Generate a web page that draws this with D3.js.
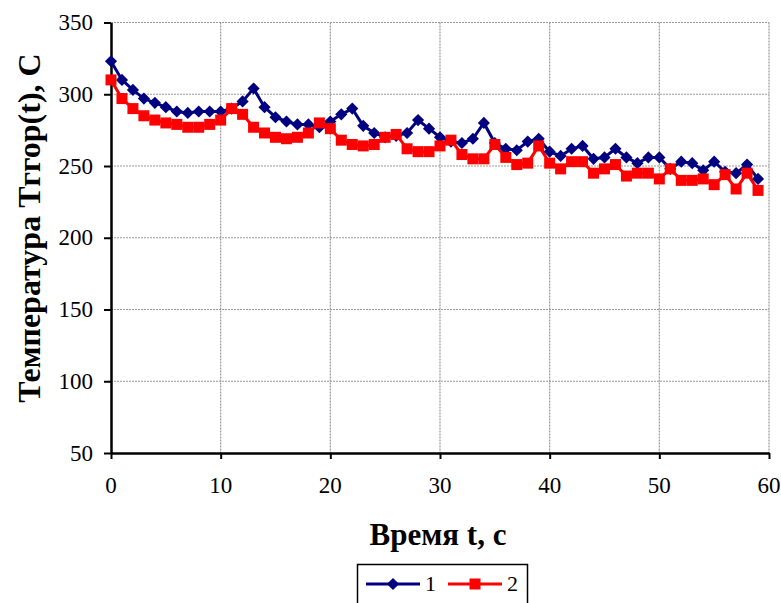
<!DOCTYPE html>
<html>
<head>
<meta charset="utf-8">
<script src="https://cdn.jsdelivr.net/npm/d3@7"></script>
<style>
  body { margin: 0; background: #fff; }
  svg text { font-family: "Liberation Serif", "Times New Roman", serif; }
</style>
</head>
<body>
<div id="chart"></div>
<script>
// time, seconds
var times = d3.range(0, 60);

// series 1 (navy diamonds)
var series1 = [323, 310, 303, 297, 294, 291, 288, 287, 288, 288,
               288, 290, 295, 304, 291, 284, 281, 279, 279, 277,
               281, 286, 290, 278, 273, 270, 271, 273, 282, 276,
               270, 267, 266, 269, 280, 266, 262, 261, 267, 269,
               260, 257, 262, 264, 255, 256, 262, 256, 252, 256,
               256, 248, 253, 252, 247, 253, 246, 245, 251, 241];

// series 2 (red squares)
var series2 = [310, 297, 290, 285, 282, 280, 279, 277, 277, 279,
               282, 290, 286, 277, 273, 270, 269, 270, 273, 280,
               276, 268, 265, 264, 265, 270, 272, 262, 260, 260,
               264, 268, 258, 255, 255, 265, 256, 251, 252, 264,
               252, 248, 253, 253, 245, 248, 251, 243, 245, 245,
               241, 248, 240, 240, 241, 237, 244, 234, 245, 233];

var xTicks = [0, 10, 20, 30, 40, 50, 60];
var yTicks = [50, 100, 150, 200, 250, 300, 350];
var seriesNames = ["1", "2"];

var svgWidth = 781;
var svgHeight = 603;

var margin = { top: 22.5, right: 12, bottom: 150, left: 111 };
var chartWidth = 769 - margin.left;
var chartHeight = 453 - margin.top;

var svg = d3.select("#chart")
  .append("svg")
  .attr("width", svgWidth)
  .attr("height", svgHeight);

var chartGroup = svg.append("g")
  .attr("transform", `translate(${margin.left}, ${margin.top})`);

var xScale = d3.scaleLinear().domain([0, 60]).range([0, chartWidth]);
var yScale = d3.scaleLinear().domain([50, 350]).range([chartHeight, 0]);

// gridlines
chartGroup.append("g")
  .selectAll("line")
  .data(yTicks.slice(1))
  .enter()
  .append("line")
  .attr("x1", 0)
  .attr("x2", chartWidth)
  .attr("y1", d => yScale(d))
  .attr("y2", d => yScale(d))
  .attr("stroke", "#999")
  .attr("stroke-width", 1.2)
  .attr("stroke-dasharray", "2,1");

chartGroup.append("g")
  .selectAll("line")
  .data(xTicks.slice(1))
  .enter()
  .append("line")
  .attr("x1", d => xScale(d))
  .attr("x2", d => xScale(d))
  .attr("y1", 0)
  .attr("y2", chartHeight)
  .attr("stroke", "#999")
  .attr("stroke-width", 1.2)
  .attr("stroke-dasharray", "2,1");

// axes, tick labels drawn separately below
var bottomAxis = d3.axisBottom(xScale).tickValues(xTicks).tickSizeInner(6).tickSizeOuter(0).tickFormat("");
var leftAxis = d3.axisLeft(yScale).tickValues(yTicks).tickSizeInner(7).tickSizeOuter(0).tickFormat("");

var xAxisG = chartGroup.append("g")
  .attr("transform", `translate(0, ${chartHeight})`)
  .call(bottomAxis);

var yAxisG = chartGroup.append("g")
  .call(leftAxis);

[xAxisG, yAxisG].forEach(function(g) {
  g.select(".domain").attr("stroke", "#000").attr("stroke-width", 2.5);
  g.selectAll(".tick line").attr("stroke", "#000").attr("stroke-width", 2);
  g.selectAll(".tick text").remove();
});

chartGroup.append("g")
  .selectAll("text")
  .data(xTicks)
  .enter()
  .append("text")
  .attr("x", d => xScale(d))
  .attr("y", chartHeight + 40)
  .attr("text-anchor", "middle")
  .style("font-size", "23px")
  .text(d => d);

chartGroup.append("g")
  .selectAll("text")
  .data(yTicks)
  .enter()
  .append("text")
  .attr("x", -18)
  .attr("y", d => yScale(d) + 7.5)
  .attr("text-anchor", "end")
  .style("font-size", "23px")
  .text(d => d);

// lines
var line1 = d3.line().x((d, i) => xScale(times[i])).y(d => yScale(d));

chartGroup.append("path")
  .datum(series1)
  .attr("fill", "none")
  .attr("stroke", "#000080")
  .attr("stroke-width", 3)
  .attr("d", line1);

chartGroup.append("path")
  .datum(series2)
  .attr("fill", "none")
  .attr("stroke", "#ff0000")
  .attr("stroke-width", 3)
  .attr("d", line1);

var diamond = d3.symbol().type(d3.symbolSquare).size(74);

chartGroup.append("g")
  .selectAll("path")
  .data(series1)
  .enter()
  .append("path")
  .attr("d", diamond)
  .attr("fill", "#000080")
  .attr("transform", (d, i) => `translate(${xScale(times[i])}, ${yScale(d)}) rotate(45)`);

chartGroup.append("g")
  .selectAll("rect")
  .data(series2)
  .enter()
  .append("rect")
  .attr("x", (d, i) => xScale(times[i]) - 5.5)
  .attr("y", d => yScale(d) - 5.5)
  .attr("width", 11)
  .attr("height", 11)
  .attr("fill", "#ff0000");

// axis titles
svg.append("text")
  .attr("transform", `translate(40, 228) rotate(-90)`)
  .attr("text-anchor", "middle")
  .style("font-size", "32px")
  .style("font-weight", "bold")
  .text("Температура Тггор(t), С");

svg.append("text")
  .attr("x", 438)
  .attr("y", 545)
  .attr("text-anchor", "middle")
  .style("font-size", "31px")
  .style("font-weight", "bold")
  .text("Время t, с");

// legend
var legend = svg.append("g");
legend.append("rect")
  .attr("x", 357.5)
  .attr("y", 564.5)
  .attr("width", 170)
  .attr("height", 50)
  .attr("fill", "#fff")
  .attr("stroke", "#000")
  .attr("stroke-width", 1.5);

var legendX = [366, 448];
var legendY = 584;

seriesNames.forEach(function(name, i) {
  var color = i === 0 ? "#000080" : "#ff0000";
  legend.append("line")
    .attr("x1", legendX[i])
    .attr("x2", legendX[i] + 54)
    .attr("y1", legendY)
    .attr("y2", legendY)
    .attr("stroke", color)
    .attr("stroke-width", 3);
  if (i === 0) {
    legend.append("path")
      .attr("d", diamond)
      .attr("fill", color)
      .attr("transform", `translate(${legendX[i] + 27}, ${legendY}) rotate(45)`);
  } else {
    legend.append("rect")
      .attr("x", legendX[i] + 27 - 5.5)
      .attr("y", legendY - 5.5)
      .attr("width", 11)
      .attr("height", 11)
      .attr("fill", color);
  }
  legend.append("text")
    .attr("x", legendX[i] + 59)
    .attr("y", legendY + 7)
    .style("font-size", "22px")
    .text(name);
});
</script>
</body>
</html>
